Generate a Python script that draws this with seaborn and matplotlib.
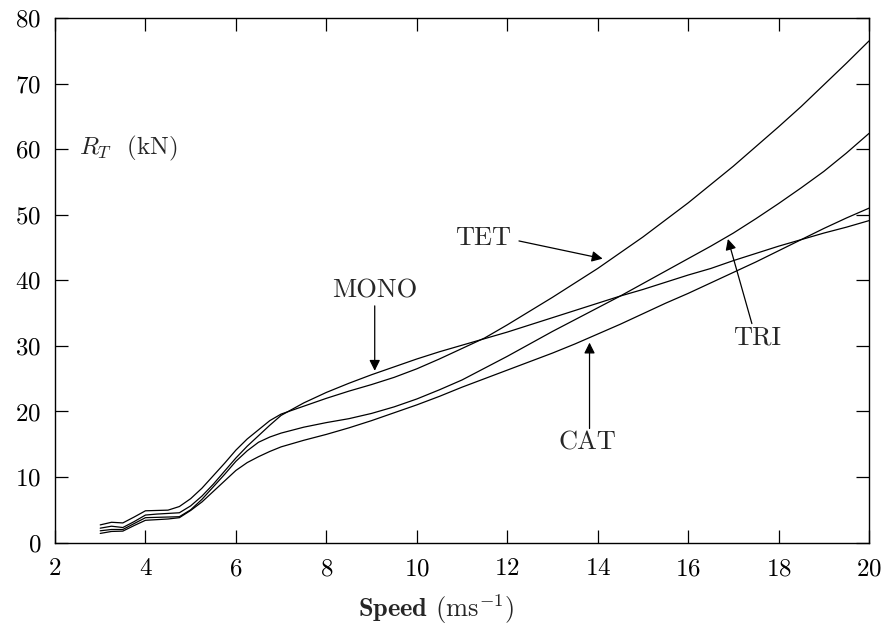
import numpy as np
import pandas as pd
import matplotlib
matplotlib.use("Agg")
import matplotlib.pyplot as plt
import seaborn as sns

# --- data (speed in m/s, total resistance in kN) ---
speed = [3, 3.25, 3.5, 3.75, 4, 4.25, 4.5, 4.75, 5, 5.25, 5.5, 5.75, 6, 6.25,
         6.5, 6.75, 7, 7.5, 8, 8.5, 9, 9.5, 10, 10.5, 11, 11.5, 12, 12.5, 13,
         13.5, 14, 14.5, 15, 15.5, 16, 16.5, 17, 17.5, 18, 18.5, 19, 19.5, 20]

tet = [2.7, 3.1, 3.0, 3.9, 4.85, 4.9, 4.95, 5.5, 6.7, 8.3, 10.2, 12.1, 14.1,
       15.8, 17.2, 18.6, 19.6, 20.8, 22.0, 23.1, 24.1, 25.2, 26.5, 28.0, 29.6,
       31.2, 33.2, 35.3, 37.4, 39.6, 41.8, 44.2, 46.6, 49.2, 51.8, 54.6, 57.4,
       60.4, 63.4, 66.5, 69.8, 73.1, 76.5]

mono = [2.2, 2.5, 2.3, 3.2, 4.2, 4.35, 4.45, 4.55, 5.6, 7.1, 8.9, 10.9, 12.9,
        14.7, 16.3, 17.9, 19.4, 21.3, 22.9, 24.3, 25.6, 26.8, 28.0, 29.1, 30.1,
        31.1, 32.1, 33.2, 34.3, 35.4, 36.5, 37.6, 38.6, 39.7, 40.8, 41.8, 43.0,
        44.1, 45.2, 46.2, 47.2, 48.1, 49.1]

tri = [1.8, 2.0, 2.0, 2.9, 3.8, 3.85, 3.9, 3.95, 5.0, 6.6, 8.5, 10.4, 12.4,
       14.0, 15.3, 16.1, 16.7, 17.6, 18.3, 18.9, 19.7, 20.7, 21.9, 23.3, 24.8,
       26.6, 28.4, 30.3, 32.2, 34.0, 35.8, 37.6, 39.5, 41.4, 43.3, 45.2, 47.2,
       49.4, 51.7, 54.1, 56.6, 59.4, 62.4]

cat = [1.4, 1.7, 1.75, 2.6, 3.4, 3.5, 3.6, 3.8, 4.9, 6.2, 7.8, 9.4, 11.0,
       12.2, 13.1, 13.9, 14.6, 15.6, 16.5, 17.5, 18.6, 19.8, 21.0, 22.3, 23.7,
       25.0, 26.3, 27.6, 28.9, 30.3, 31.8, 33.3, 34.9, 36.5, 38.0, 39.6, 41.2,
       42.8, 44.5, 46.2, 47.9, 49.5, 51.0]

hulls = {"TET": tet, "MONO": mono, "TRI": tri, "CAT": cat}

df = pd.concat(
    [pd.DataFrame({"speed": speed, "rt": v, "hull": k}) for k, v in hulls.items()],
    ignore_index=True,
)

# --- style ---
sns.set_theme(style="ticks")
plt.rcParams.update({
    "font.family": ["cmr10", "DejaVu Serif"],
    "mathtext.fontset": "cm",
    "axes.formatter.use_mathtext": True,
    "axes.linewidth": 1.0,
    "axes.edgecolor": "black",
    "xtick.color": "black",
    "ytick.color": "black",
})

fig, ax = plt.subplots(figsize=(8.86, 6.30), dpi=100)
fig.subplots_adjust(left=55 / 886, right=869 / 886, top=1 - 18 / 630, bottom=1 - 542.6 / 630)

sns.lineplot(data=df, x="speed", y="rt", units="hull", estimator=None,
             color="black", linewidth=0.9, sort=False, ax=ax)

ax.set_xlim(2, 20)
ax.set_ylim(0, 80)
ax.set_xticks(range(2, 21, 2))
ax.set_yticks(range(0, 81, 10))
ax.tick_params(direction="in", length=9.5, width=0.9, top=True, right=True,
               labelsize=18)
ax.tick_params(axis="x", pad=11)
ax.tick_params(axis="y", pad=10)
for s in ax.spines.values():
    s.set_visible(True)

ax.set_xlabel(r"$\mathbf{Speed}$ (ms$^{-1}$)", fontsize=19)
ax.xaxis.set_label_coords(0.468, -0.094)
ax.set_ylabel("")

ax.text(2.54, 60.1, r"$R_T$  (kN)", fontsize=18, va="center", ha="left")

arrow = dict(arrowstyle="-|>", color="black", lw=0.9, mutation_scale=16,
             shrinkA=0, shrinkB=0)
ax.text(9.07, 38.4, "MONO", fontsize=19, ha="center", va="center")
ax.annotate("", xy=(9.07, 26.2), xytext=(9.07, 36.1), arrowprops=arrow)

ax.text(11.46, 46.5, "TET", fontsize=19, ha="center", va="center")
ax.annotate("", xy=(14.11, 43.3), xytext=(12.26, 46.0), arrowprops=arrow)

ax.text(13.78, 15.2, "CAT", fontsize=19, ha="center", va="center")
ax.annotate("", xy=(13.82, 30.5), xytext=(13.82, 17.4), arrowprops=arrow)

ax.text(17.52, 31.3, "TRI", fontsize=19, ha="center", va="center")
ax.annotate("", xy=(16.88, 46.3), xytext=(17.41, 33.4), arrowprops=arrow)

fig.savefig("out.png", dpi=100)
